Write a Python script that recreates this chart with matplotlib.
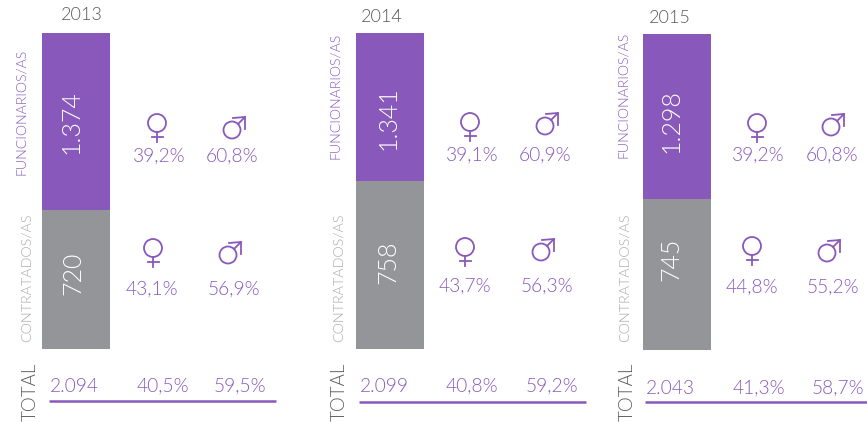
import matplotlib
matplotlib.use('Agg')
import matplotlib.pyplot as plt
from matplotlib.patches import Circle
from matplotlib import font_manager

# Data
years = ['2013', '2014', '2015']
func_labels = ['1.374', '1.341', '1.298']
cont_labels = ['720', '758', '745']
total_labels = ['2.094', '2.099', '2.043']
func_female = ['39,2%', '39,1%', '39,2%']
func_male = ['60,8%', '60,9%', '60,8%']
cont_female = ['43,1%', '43,7%', '44,8%']
cont_male = ['56,9%', '56,3%', '55,2%']
total_female = ['40,5%', '40,8%', '41,3%']
total_male = ['59,5%', '59,2%', '58,7%']
# segments in the picture are not proportional to the labels, so heights are read off it
func_heights = [177, 148, 165]
cont_heights = [139, 168, 151]

# Layout in pixels of the reference
bar_left = [42, 356, 643]
bar_bottom = [349, 349, 350]
year_pos = [(82, 15), (382, 17), (670, 18)]
func_name_pos = [(21, 112), (335, 96), (623, 95)]
cont_name_pos = [(27, 278), (339, 278), (625, 278)]
func_val_pos = [(71, 122), (388, 118), (671, 121)]
cont_val_pos = [(73, 273), (388, 262), (671, 259)]
func_pct_x = [(159, 232), (472, 545), (758, 832)]
cont_pct_x = [(152, 234), (465, 547), (752, 833)]
func_pct_y = [156, 155, 155]
cont_pct_y = [289, 286, 287]
func_sym = [((157, 123), (232, 130)), ((470, 122), (545, 126)), ((757, 123), (831, 127))]
cont_sym = [((153, 248), (228, 255)), ((465, 247), (541, 252)), ((752, 246), (827, 253))]
total_x = [30, 339, 627]
total_val_x = [50, 360, 646]
total_pct_x = [(163, 240), (472, 552), (759, 838)]
total_y = [386, 386, 388]
line_x = [(49, 276), (359, 586), (645, 867)]
line_y = [401, 402, 402]

PURPLE = '#8859bb'
GREY = '#939598'
LABEL_GREY = '#a7a9ac'
DARK = '#58595b'
PCT_SIZE = 13.8

names = {f.name for f in font_manager.fontManager.ttflist}
plt.rcParams['font.family'] = ['Lato', 'DejaVu Sans'] if 'Lato' in names else ['DejaVu Sans']
plt.rcParams['font.weight'] = 300


# Female sign: ring with a small cross underneath
def draw_female(ax, cx, cy):
    ax.add_patch(Circle((cx, cy), 9, fill=False, ec=PURPLE, lw=1.3))
    ax.plot([cx, cx], [cy + 9, cy + 19], color=PURPLE, lw=1.3)
    ax.plot([cx - 5.5, cx + 5.5], [cy + 14, cy + 14], color=PURPLE, lw=1.3)


# Male sign: ring with an arrow to the upper right
def draw_male(ax, cx, cy):
    ax.add_patch(Circle((cx, cy), 8.5, fill=False, ec=PURPLE, lw=1.3))
    ax.plot([cx + 6, cx + 13], [cy - 6, cy - 13], color=PURPLE, lw=1.3)
    ax.plot([cx + 1, cx + 13, cx + 13], [cy - 12, cy - 13, cy - 1], color=PURPLE, lw=1.3)


fig = plt.figure(figsize=(8.67, 4.22), dpi=100)
ax = fig.add_axes([0, 0, 1, 1])
ax.set_xlim(0, 867)
ax.set_ylim(422, 0)
ax.axis('off')

for i in range(len(years)):
    # stacked bar
    ax.bar(bar_left[i], -cont_heights[i], width=68, bottom=bar_bottom[i], align='edge', color=GREY)
    ax.bar(bar_left[i], -func_heights[i], width=68, bottom=bar_bottom[i] - cont_heights[i], align='edge', color=PURPLE)

    ax.text(*year_pos[i], years[i], color=DARK, fontsize=13, ha='center', va='center')
    ax.text(*func_name_pos[i], 'FUNCIONARIOS/AS', color=PURPLE, fontsize=10.1, rotation=90, ha='center', va='center')
    ax.text(*cont_name_pos[i], 'CONTRATADOS/AS', color=LABEL_GREY, fontsize=10.3, rotation=90, ha='center', va='center')
    ax.text(*func_val_pos[i], func_labels[i], color='white', fontsize=18, rotation=90, ha='center', va='center')
    ax.text(*cont_val_pos[i], cont_labels[i], color='white', fontsize=18, rotation=90, ha='center', va='center')

    # shares by sex
    ax.text(func_pct_x[i][0], func_pct_y[i], func_female[i], color=PURPLE, fontsize=PCT_SIZE, ha='center', va='center')
    ax.text(func_pct_x[i][1], func_pct_y[i], func_male[i], color=PURPLE, fontsize=PCT_SIZE, ha='center', va='center')
    ax.text(cont_pct_x[i][0], cont_pct_y[i], cont_female[i], color=PURPLE, fontsize=PCT_SIZE, ha='center', va='center')
    ax.text(cont_pct_x[i][1], cont_pct_y[i], cont_male[i], color=PURPLE, fontsize=PCT_SIZE, ha='center', va='center')
    draw_female(ax, *func_sym[i][0])
    draw_male(ax, *func_sym[i][1])
    draw_female(ax, *cont_sym[i][0])
    draw_male(ax, *cont_sym[i][1])

    # total row
    ax.text(total_x[i], 392, 'TOTAL', color=DARK, fontsize=13.5, rotation=90, ha='center', va='center')
    ax.text(total_val_x[i], total_y[i], total_labels[i], color=PURPLE, fontsize=PCT_SIZE, ha='left', va='center')
    ax.text(total_pct_x[i][0], total_y[i], total_female[i], color=PURPLE, fontsize=PCT_SIZE, ha='center', va='center')
    ax.text(total_pct_x[i][1], total_y[i], total_male[i], color=PURPLE, fontsize=PCT_SIZE, ha='center', va='center')
    ax.plot(line_x[i], [line_y[i], line_y[i]], color=PURPLE, lw=1.8, solid_capstyle='butt')

fig.savefig('out.png', dpi=100)
